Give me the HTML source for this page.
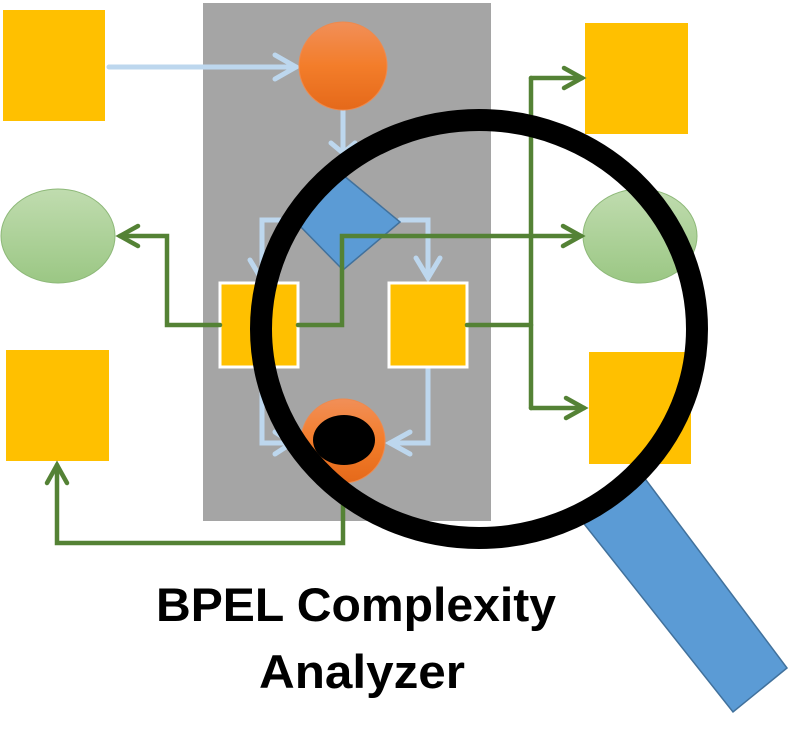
<!DOCTYPE html>
<html><head><style>html,body{margin:0;padding:0;background:#fff}svg{display:block}</style></head><body>
<svg width="789" height="739" viewBox="0 0 789 739" xmlns="http://www.w3.org/2000/svg">
<defs>
<linearGradient id="og" x1="0" y1="0" x2="0" y2="1"><stop offset="0" stop-color="#F18F58"/><stop offset="0.5" stop-color="#F37D2A"/><stop offset="1" stop-color="#E5691A"/></linearGradient>
<linearGradient id="gg" x1="0" y1="0" x2="0" y2="1"><stop offset="0" stop-color="#C0DCAF"/><stop offset="1" stop-color="#9BC784"/></linearGradient>
</defs>
<rect x="203" y="3" width="288" height="518" fill="#A5A5A5"/>
<g fill="#FFC000">
<rect x="3" y="10" width="102" height="111"/>
<rect x="585" y="23" width="103" height="111"/>
<rect x="6" y="350" width="103" height="111"/>
<rect x="589" y="352" width="102" height="112"/>
</g>
<ellipse cx="58" cy="236" rx="57" ry="47" fill="url(#gg)" stroke="#8DB878"/>
<ellipse cx="640" cy="236" rx="57" ry="47" fill="url(#gg)" stroke="#8DB878"/>
<g stroke="#BDD7EE" stroke-width="5" fill="none" stroke-linecap="round" stroke-linejoin="miter">
<path d="M109 67 H296"/><path d="M275 55 L296 67 L275 79"/>
<path d="M343 110 V152"/><path d="M331 143 L343 153 L355 143"/>
<path d="M296 220 H262 V280"/><path d="M250 260 L262 280 L274 260"/>
<path d="M400 220 H428 V278"/><path d="M416 258 L428 278 L440 258"/>
<path d="M262 367 V443 H292"/><path d="M275 432 L292 443 L275 454"/>
<path d="M428 367 V443 H390"/><path d="M410 432 L390 443 L410 454"/>
</g>
<circle cx="343" cy="66" r="44" fill="url(#og)" stroke="#EE8A4E"/>
<polygon points="343,175 400,222 343,270 296,222" fill="#5B9BD5" stroke="#41719C" stroke-width="1.5"/>
<rect x="220" y="283" width="78" height="84" fill="#FFC000" stroke="#fff" stroke-width="3"/>
<rect x="389" y="283" width="78" height="84" fill="#FFC000" stroke="#fff" stroke-width="3"/>
<circle cx="343" cy="441" r="42" fill="url(#og)" stroke="#EE8A4E"/>
<g stroke="#548235" stroke-width="4.5" fill="none" stroke-linecap="round">
<path d="M220 325 H167 V236 H120"/><path d="M138 226 L120 236 L138 246"/>
<path d="M298 325 H342 V236 H581"/><path d="M563 226 L581 236 L563 246"/>
<path d="M467 325 H531"/><path d="M531 78 V408"/>
<path d="M531 78 H582"/><path d="M564 68 L582 78 L564 88"/>
<path d="M531 408 H584"/><path d="M566 398 L584 408 L566 418"/>
<path d="M343 486 V543 H57 V465"/><path d="M47 483 L57 465 L67 483"/>
</g>
<ellipse cx="344" cy="440" rx="31" ry="25" fill="#000"/>
<polygon points="581,520 640,472 787,668 733,712" fill="#5B9BD5" stroke="#41719C" stroke-width="1.5"/>
<ellipse cx="479" cy="329" rx="218" ry="209" fill="none" stroke="#000" stroke-width="22"/>
<g font-family="'Liberation Sans',sans-serif" font-weight="bold" font-size="47" text-anchor="middle" fill="#000">
<text x="356" y="621" textLength="400" lengthAdjust="spacingAndGlyphs">BPEL Complexity</text>
<text x="362" y="688" textLength="206" lengthAdjust="spacingAndGlyphs">Analyzer</text>
</g>
</svg>
</body></html>
